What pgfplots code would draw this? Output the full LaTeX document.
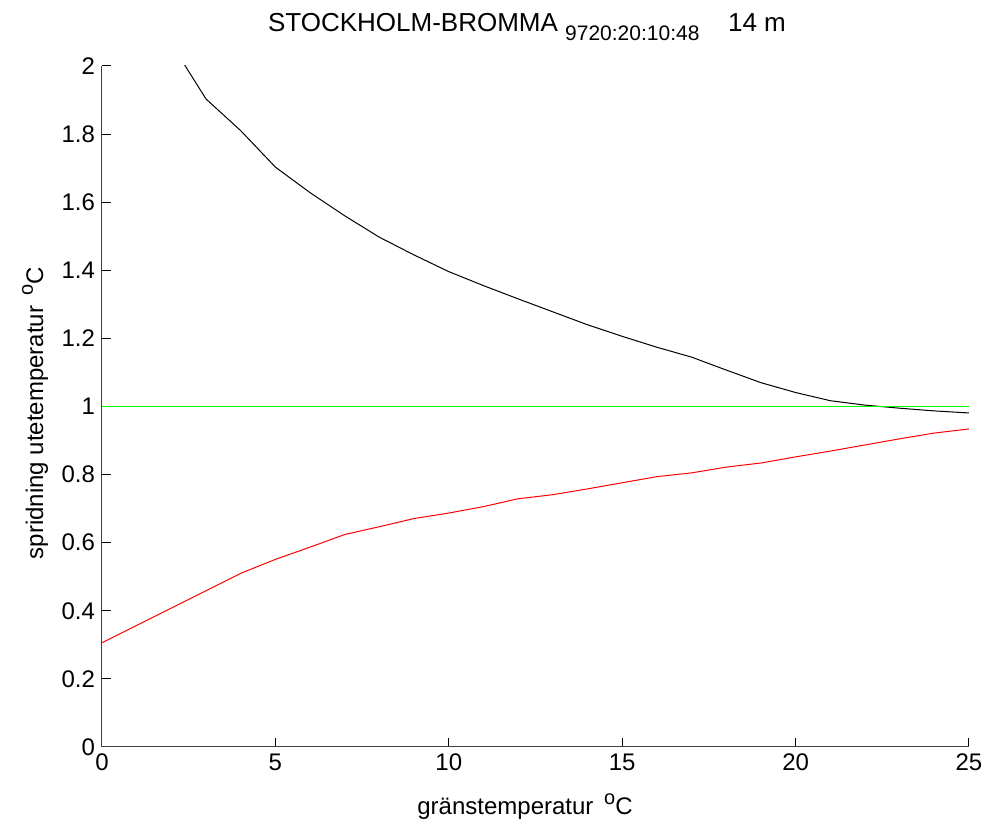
\documentclass[border=0pt]{standalone}
\usepackage{pgfplots}
\pgfplotsset{compat=1.18}
\usepackage{fontspec}
\setmainfont{Liberation Sans}
\begin{document}
\begin{tikzpicture}[x=1pt,y=1pt]
\path[use as bounding box] (-51,-40.5) rectangle (442.5,373.5);
\begin{axis}[
  at={(0,0)}, anchor=origin,
  scale only axis,
  width=433.5pt, height=340.5pt,
  xmin=0, xmax=25, ymin=0, ymax=2,
  axis lines=left,
  axis line style={-, black!75, line width=0.5pt},
  tick style={black, line width=0.5pt},
  tick align=inside,
  major tick length=4.5pt,
  xtick={0,5,10,15,20,25},
  ytick={0,0.2,0.4,0.6,0.8,1,1.2,1.4,1.6,1.8,2},
  yticklabels={0,0.2,0.4,0.6,0.8,1,1.2,1.4,1.6,1.8,2},
  xticklabels={0,5,10,15,20,25},
  tick label style={font=\fontsize{12}{14}\selectfont},
  clip=true,
]
\addplot[black, line width=0.5pt] coordinates {
(2,2.065) (3,1.903) (4,1.810) (5,1.703) (6,1.628) (7,1.560) (8,1.497)
(9,1.445) (10,1.396) (11,1.355) (12,1.316) (13,1.278) (14,1.240)
(15,1.206) (16,1.174) (17,1.145) (18,1.107) (19,1.070) (20,1.041)
(21,1.017) (22,1.004) (23,0.995) (24,0.987) (25,0.981)};
\addplot[red, line width=0.5pt] coordinates {
(0,0.306) (1,0.357) (2,0.408) (3,0.459) (4,0.510) (5,0.551) (6,0.587)
(7,0.624) (8,0.647) (9,0.671) (10,0.687) (11,0.706) (12,0.729)
(13,0.741) (14,0.758) (15,0.776) (16,0.794) (17,0.805) (18,0.822)
(19,0.834) (20,0.852) (21,0.869) (22,0.887) (23,0.905) (24,0.922) (25,0.934)};
\addplot[green, line width=0.5pt] coordinates {(0,1) (25,1)};
\end{axis}
\node[anchor=base, font=\fontsize{13}{15}\selectfont] at (212.5,357.5)
  {STOCKHOLM-BROMMA \raisebox{-4.5pt}{\fontsize{10.5}{12}\selectfont 9720:20:10:48}\hspace{1.1em}14 m};
\node[anchor=base, font=\fontsize{12}{14}\selectfont] at (211.5,-34)
  {gränstemperatur \,\raisebox{5pt}{\fontsize{10}{12}\selectfont o}C};
\node[anchor=base, rotate=90, font=\fontsize{12}{14}\selectfont] at (-29.5,167)
  {spridning utetemperatur \,\raisebox{5pt}{\fontsize{10}{12}\selectfont o}C};
\end{tikzpicture}
\end{document}
